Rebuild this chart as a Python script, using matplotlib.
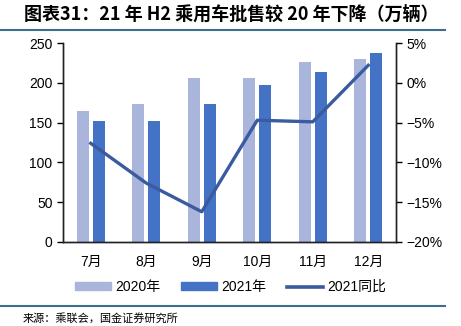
import matplotlib.pyplot as plt
import numpy as np
from matplotlib.lines import Line2D
from matplotlib.patches import Patch

plt.rcParams['font.family'] = ['Liberation Sans', 'Noto Sans CJK SC', 'DejaVu Sans']

# 数据
months = ["7月", "8月", "9月", "10月", "11月", "12月"]
sales_2020 = [164, 173, 206, 206, 226, 230]
sales_2021 = [152, 152, 173, 197, 214, 237]
yoy_2021 = [-7.6, -12.6, -16.2, -4.7, -4.9, 2.2]

c2020 = "#A9B5DB"
c2021 = "#4472C4"
cline = "#3A5BA0"
csep = "#3E6E8E"

fig = plt.figure(figsize=(4.61, 3.26), dpi=100)
ax = fig.add_axes([0.1367, 0.2577, 0.7223, 0.6103])
ax2 = ax.twinx()

x = np.arange(len(months))
w = 0.22
ax.bar(x - 0.145, sales_2020, width=w, color=c2020, zorder=2)
ax.bar(x + 0.145, sales_2021, width=w, color=c2021, zorder=2)
ax2.plot(x, yoy_2021, color=cline, linewidth=2.4, zorder=3)

ax.set_xlim(-0.5, len(months) - 0.5)
ax.set_ylim(0, 250)
ax.set_yticks(range(0, 251, 50))
ax2.set_ylim(-20, 5)
ax2.set_yticks(range(-20, 6, 5))
ax2.set_yticklabels([f"{v}%".replace("-", "\u2212") for v in range(-20, 6, 5)])

ax.set_xticks(x)
ax.set_xticklabels(months)
ax.tick_params(axis="x", length=0, pad=9, labelsize=10)
ax.tick_params(axis="y", length=4, width=1, labelsize=10, direction="out")
ax2.tick_params(axis="y", length=4, width=1, labelsize=10, direction="out")

for a in (ax, ax2):
    a.spines["top"].set_visible(False)
    for s in ("left", "right", "bottom"):
        a.spines[s].set_linewidth(1)
        a.spines[s].set_color("#222222")

# 图例
handles = [Patch(color=c2020), Patch(color=c2021), Line2D([], [], color=cline, linewidth=2.6)]
fig.legend(handles, ["2020年", "2021年", "2021同比"], loc="center", bbox_to_anchor=(0.5, 0.12),
           ncol=3, frameon=False, fontsize=10, handlelength=2.6, handleheight=0.45,
           columnspacing=1.5, handletextpad=0.3)

# 标题和分隔线
fig.text(0.052, 0.955, "图表31：21 年 H2 乘用车批售较 20 年下降（万辆）", fontsize=13, fontweight="bold",
         ha="left", va="center", family=["Noto Sans CJK SC", "DejaVu Sans"])
fig.add_artist(Line2D([0, 0.965], [0.908, 0.908], color=csep, linewidth=1.5, transform=fig.transFigure))
fig.add_artist(Line2D([0, 0.965], [0.062, 0.062], color=csep, linewidth=1.5, transform=fig.transFigure))
fig.text(0.05, 0.025, "来源：乘联会，国金证券研究所", fontsize=8, ha="left", va="center",
         family=["Noto Sans CJK SC", "DejaVu Sans"])

plt.savefig("out.png", dpi=100)
